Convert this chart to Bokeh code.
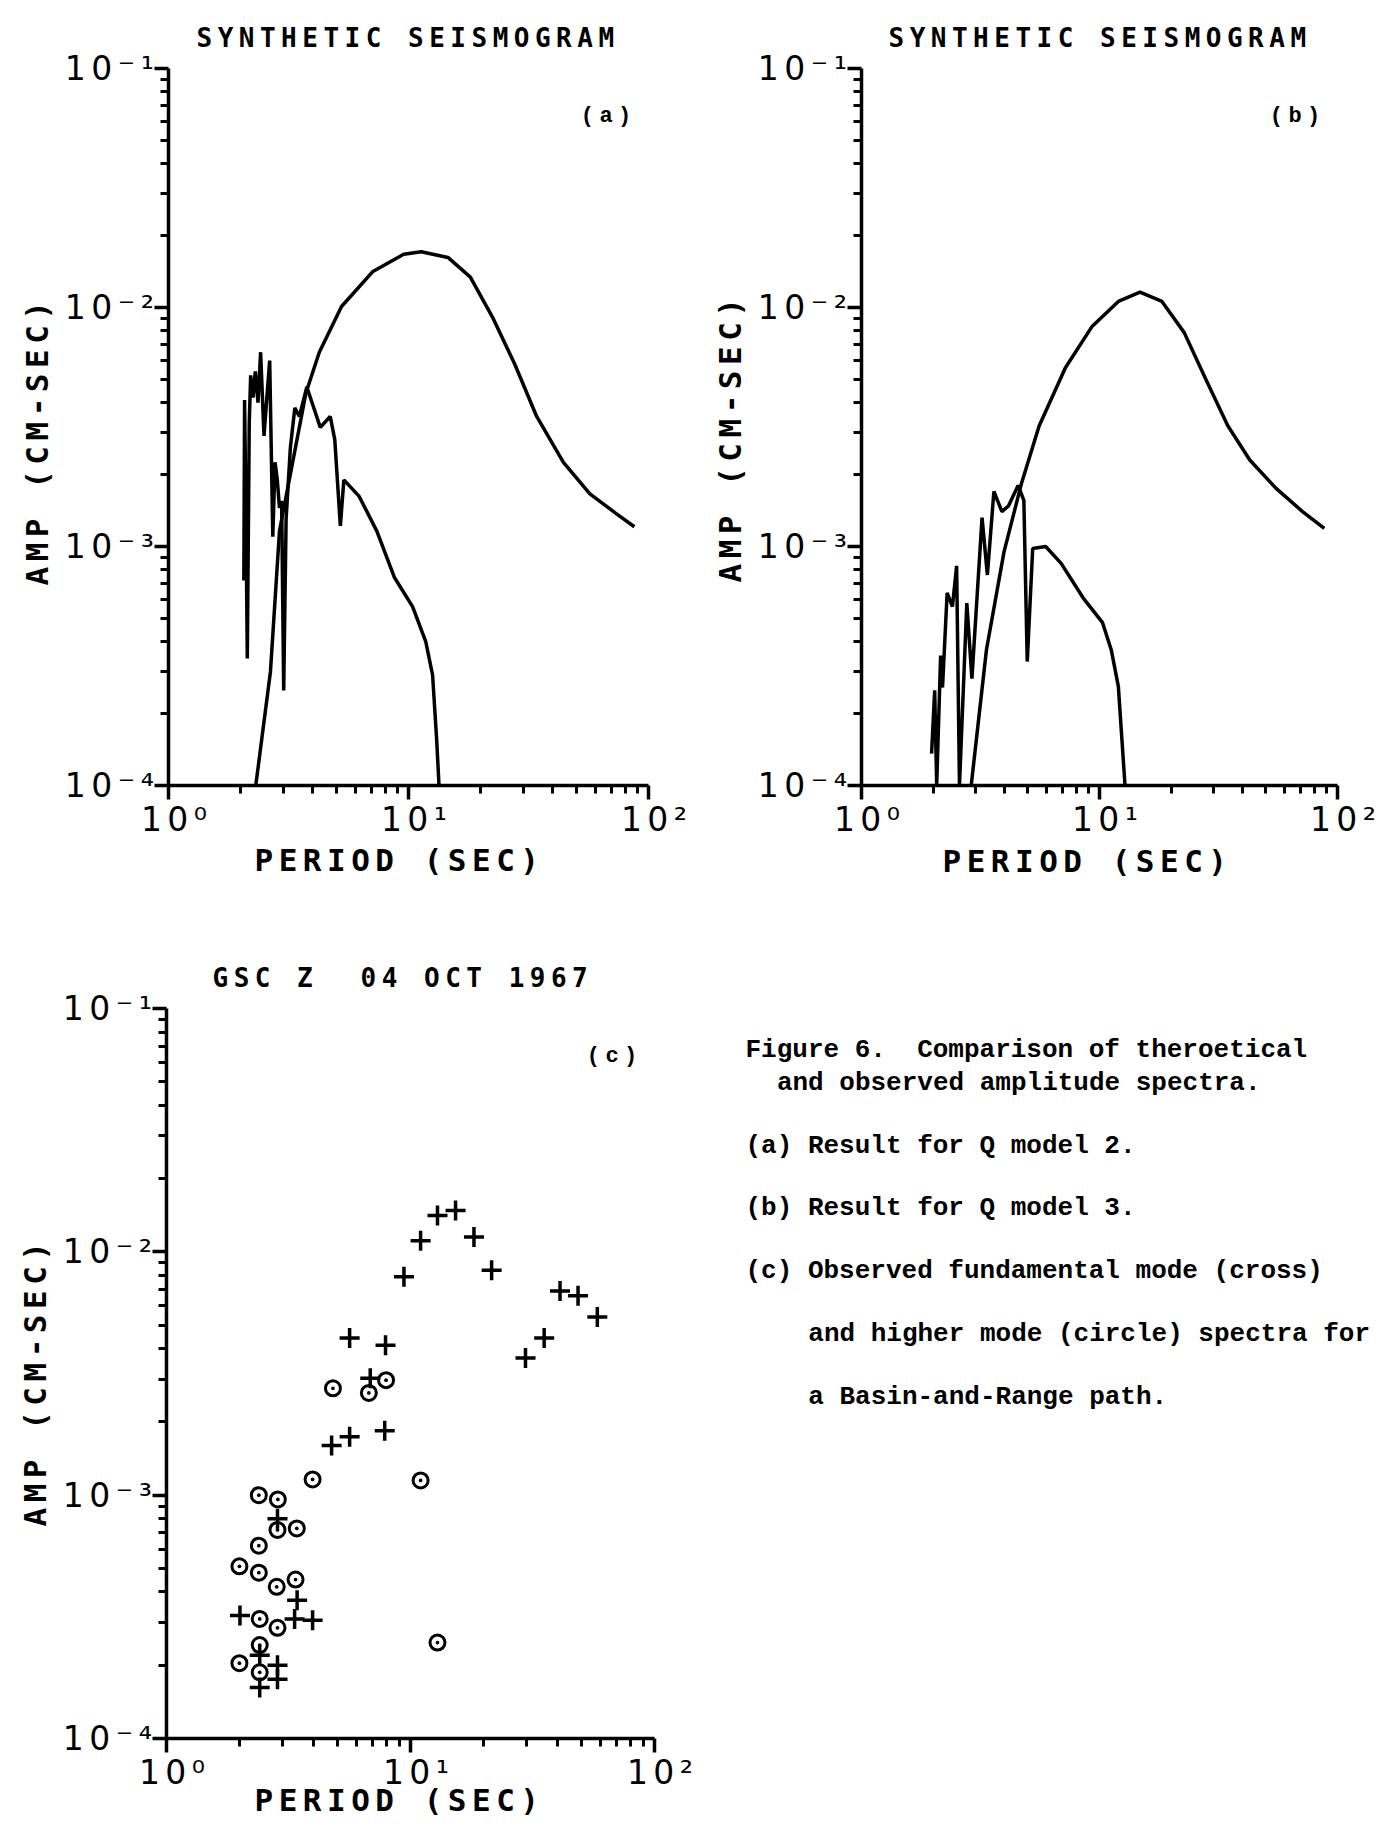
from bokeh.plotting import figure
from bokeh.models import Range1d, FixedTicker, Label, Title
from bokeh.layouts import row, column
from bokeh.embed import file_html
from bokeh.resources import INLINE
from bokeh.core.properties import value

# ---------------- data ----------------
x_tick_values = [1, 10, 100]
x_tick_labels = ["10\u2070", "10\u00b9", "10\u00b2"]
y_tick_values = [1e-4, 1e-3, 1e-2, 1e-1]
y_tick_labels = ["10\u207b\u2074", "10\u207b\u00b3", "10\u207b\u00b2", "10\u207b\u00b9"]

x_label = "PERIOD (SEC)"
y_label = "AMP (CM-SEC)"
title_synthetic = "SYNTHETIC SEISMOGRAM"
title_observed = "GSC Z\u00a0 04 OCT 1967"

# panel (a): synthetic, Q model 2
a_fund_period = [2.31, 2.66, 2.90, 3.29, 3.74, 4.25, 5.26, 7.08, 9.55, 11.3, 14.6,
                 18.1, 22.4, 27.7, 34.2, 44.2, 57.0, 73.6, 87.3]
a_fund_amp = [1.0e-4, 3.0e-4, 1.16e-3, 2.25e-3, 4.4e-3, 6.5e-3, 1.01e-2, 1.41e-2, 1.67e-2,
              1.71e-2, 1.62e-2, 1.34e-2, 9.1e-3, 5.8e-3, 3.5e-3, 2.25e-3, 1.66e-3, 1.37e-3, 1.21e-3]
a_high_period = [2.06, 2.075, 2.10, 2.13, 2.17, 2.20, 2.25, 2.30, 2.36, 2.42, 2.50, 2.56,
                 2.64, 2.72, 2.78, 2.84, 2.90, 2.96, 3.02, 3.09, 3.22, 3.36, 3.51, 3.77,
                 4.29, 4.72, 4.93, 5.20, 5.38, 6.23, 7.38, 8.75, 10.4, 11.8, 12.6, 13.1, 13.4]
a_high_amp = [7.2e-4, 4.1e-3, 1.5e-3, 3.4e-4, 3.3e-3, 5.2e-3, 4.2e-3, 5.4e-3, 4.0e-3, 6.5e-3,
              2.9e-3, 4.0e-3, 6.0e-3, 1.1e-3, 2.25e-3, 1.9e-3, 1.45e-3, 1.55e-3, 2.5e-4, 1.3e-3,
              2.6e-3, 3.8e-3, 3.5e-3, 4.65e-3, 3.15e-3, 3.5e-3, 2.8e-3, 1.22e-3, 1.9e-3, 1.62e-3,
              1.16e-3, 7.4e-4, 5.6e-4, 4.0e-4, 2.9e-4, 1.56e-4, 1.0e-4]

# panel (b): synthetic, Q model 3
b_fund_period = [2.89, 3.35, 3.97, 4.71, 5.58, 7.19, 9.28, 12.0, 14.8, 18.3, 22.7, 28.0,
                 34.6, 42.8, 55.2, 71.3, 88.0]
b_fund_amp = [1.0e-4, 3.7e-4, 9.5e-4, 1.85e-3, 3.2e-3, 5.6e-3, 8.3e-3, 1.06e-2, 1.16e-2,
              1.06e-2, 7.85e-3, 5.0e-3, 3.2e-3, 2.3e-3, 1.75e-3, 1.40e-3, 1.19e-3]
b_high_period = [1.97, 2.03, 2.07, 2.15, 2.19, 2.29, 2.41, 2.51, 2.58, 2.77, 2.91, 3.21,
                 3.38, 3.60, 3.89, 4.15, 4.55, 4.81, 4.97, 5.24, 5.94, 6.90, 8.53, 10.3,
                 11.2, 12.0, 12.8]
b_high_amp = [1.36e-4, 2.5e-4, 1.0e-4, 3.5e-4, 2.57e-4, 6.4e-4, 5.6e-4, 8.3e-4, 1.0e-4,
              5.8e-4, 2.8e-4, 1.32e-3, 7.6e-4, 1.7e-3, 1.40e-3, 1.48e-3, 1.8e-3, 1.56e-3,
              3.3e-4, 9.8e-4, 1.0e-3, 8.5e-4, 6.1e-4, 4.8e-4, 3.7e-4, 2.6e-4, 1.0e-4]

# panel (c): observed, fundamental mode (cross) and higher mode (circle)
c_cross_period = [9.40, 11.0, 12.9, 15.3, 18.2, 21.5, 29.6, 35.3, 41.0, 48.6, 58.3,
                  5.63, 7.90, 6.84, 4.75, 5.63, 7.84, 2.85, 3.43, 3.35, 3.97, 2.0,
                  2.41, 2.41, 2.85, 2.85]
c_cross_amp = [7.9e-3, 1.11e-2, 1.41e-2, 1.48e-2, 1.15e-2, 8.4e-3, 3.66e-3, 4.43e-3, 6.9e-3,
               6.6e-3, 5.4e-3, 4.43e-3, 4.13e-3, 3.02e-3, 1.6e-3, 1.74e-3, 1.84e-3, 8.0e-4,
               3.7e-4, 3.1e-4, 3.06e-4, 3.2e-4, 2.2e-4, 1.62e-4, 2.0e-4, 1.75e-4]
c_circle_period = [4.81, 6.75, 7.94, 3.97, 11.0, 2.39, 2.86, 2.85, 3.42, 2.39, 1.99, 2.39,
                   2.83, 3.38, 2.41, 2.85, 2.41, 1.99, 2.41, 12.9]
c_circle_amp = [2.75e-3, 2.63e-3, 2.97e-3, 1.16e-3, 1.15e-3, 1.0e-3, 9.6e-4, 7.2e-4, 7.3e-4,
                6.2e-4, 5.1e-4, 4.8e-4, 4.2e-4, 4.5e-4, 3.1e-4, 2.85e-4, 2.42e-4, 2.04e-4,
                1.87e-4, 2.48e-4]

caption_lines = [
    "Figure 6.\u00a0 Comparison of theroetical",
    "and observed amplitude spectra.",
    "(a) Result for Q model 2.",
    "(b) Result for Q model 3.",
    "(c) Observed fundamental mode (cross)",
    "and higher mode (circle) spectra for",
    "a Basin-and-Range path.",
]
caption_indent = [0, 2, 0, 0, 0, 4, 4]

# ---------------- styling ----------------
PLOT_FONT = "DejaVu Sans Mono"
TYPE_FONT = "Liberation Mono"
PLOT_STYLES = {"letter-spacing": "5.5px"}
x_minor = [m * 10 ** e for e in range(0, 2) for m in range(2, 10)]
y_minor = [m * 10 ** e for e in range(-4, -1) for m in range(2, 10)]


def make_panel(w, h, bl, br, bt, bb, title, title_offset, tag, xlab_offset, xlab_standoff,
               ylab_offset):
    p = figure(width=w, height=h, x_axis_type="log", y_axis_type="log",
               x_range=Range1d(1, 100), y_range=Range1d(1e-4, 1e-1),
               output_backend="svg", toolbar_location=None,
               min_border_left=bl, min_border_right=br,
               min_border_top=bt, min_border_bottom=bb,
               styles=PLOT_STYLES)
    p.outline_line_color = None
    p.grid.visible = False
    p.title.text = title
    p.title.align = "left"
    p.title.offset = title_offset
    p.title.text_font = PLOT_FONT
    p.title.text_font_size = "26px"
    p.title.text_font_style = "bold"
    p.title.text_color = "black"
    p.title.standoff = 32

    xa, ya = p.xaxis[0], p.yaxis[0]
    xa.ticker = FixedTicker(ticks=x_tick_values, minor_ticks=x_minor)
    ya.ticker = FixedTicker(ticks=y_tick_values, minor_ticks=y_minor)
    xa.major_label_overrides = dict(zip(x_tick_values, x_tick_labels))
    ya.major_label_overrides = dict(zip(y_tick_values, y_tick_labels))
    for ax in (xa, ya):
        ax.axis_line_width = 3.5
        ax.axis_line_color = "black"
        ax.major_tick_line_width = 3.5
        ax.minor_tick_line_width = 3
        ax.major_tick_line_color = "black"
        ax.minor_tick_line_color = "black"
        ax.major_tick_in = 0
        ax.major_tick_out = 14
        ax.minor_tick_in = 0
        ax.minor_tick_out = 8
        ax.major_label_text_font = "DejaVu Sans"
        ax.major_label_text_font_size = "33px"
        ax.major_label_text_font_style = "normal"
        ax.major_label_text_color = "black"
    xa.major_label_standoff = 0
    ya.major_label_standoff = 17

    # axis titles, left-anchored so the wide plotter letter spacing keeps its place
    p.add_layout(Title(text=x_label, align="left", offset=xlab_offset, standoff=xlab_standoff,
                       text_font=PLOT_FONT, text_font_size="31px", text_font_style="bold",
                       text_color="black"), "below")
    p.add_layout(Title(text=y_label, align="left", offset=ylab_offset, standoff=14,
                       text_font=PLOT_FONT, text_font_size="31px", text_font_style="bold",
                       text_color="black"), "left")
    # panel tag in the upper right corner
    p.add_layout(Label(x=w - bl - br - 48, y=h - bt - bb - 48, x_units="screen", y_units="screen",
                       text=tag, text_font=TYPE_FONT, text_font_size="22px",
                       text_font_style="bold", text_align="center", text_baseline="middle",
                       text_color="black"))
    return p


# (a)
pa = make_panel(698, 908, 168, 50, 68, 123, title_synthetic, 28, "(a)", 86, -3, 200)
pa.line(a_fund_period, a_fund_amp, line_width=3.5, color="black")
pa.line(a_high_period, a_high_amp, line_width=3.5, color="black")

# (b)
pb = make_panel(694, 908, 163, 55, 68, 123, title_synthetic, 27, "(b)", 81, -1, 203)
pb.line(b_fund_period, b_fund_amp, line_width=3.5, color="black")
pb.line(b_high_period, b_high_amp, line_width=3.5, color="black")

# (c)
pc = make_panel(698, 918, 166, 44, 100, 88, title_observed, 46, "(c)", 88, -30, 212)
pc.scatter(c_cross_period, c_cross_amp, marker="cross", size=20, line_width=3.5, color="black")
pc.scatter(c_circle_period, c_circle_amp, marker="circle_dot", size=15, line_width=3,
           line_color="black", fill_color=None)

# caption (shares its frame with panel (c) in the row)
CAP_W, CAP_H = 694, 918
cap = figure(width=CAP_W, height=CAP_H, x_range=Range1d(0, CAP_W), y_range=Range1d(730, 0),
             output_backend="svg", toolbar_location=None,
             min_border_left=0, min_border_right=0, min_border_top=100, min_border_bottom=88,
             x_axis_location=None, y_axis_location=None)
cap.grid.visible = False
cap.outline_line_color = None
char_w = 15.7
cap_x = [47 + char_w * k for k in caption_indent]
cap_y = [41, 74, 137, 199, 262, 325, 388]
cap.text(x=cap_x, y=cap_y, text=caption_lines, text_font=value(TYPE_FONT),
         text_font_size="26px", text_font_style="bold", text_color="black",
         text_align="left", text_baseline="alphabetic")

layout = column(row(pa, pb), row(pc, cap))
open("out.html", "w").write(file_html(layout, INLINE))
